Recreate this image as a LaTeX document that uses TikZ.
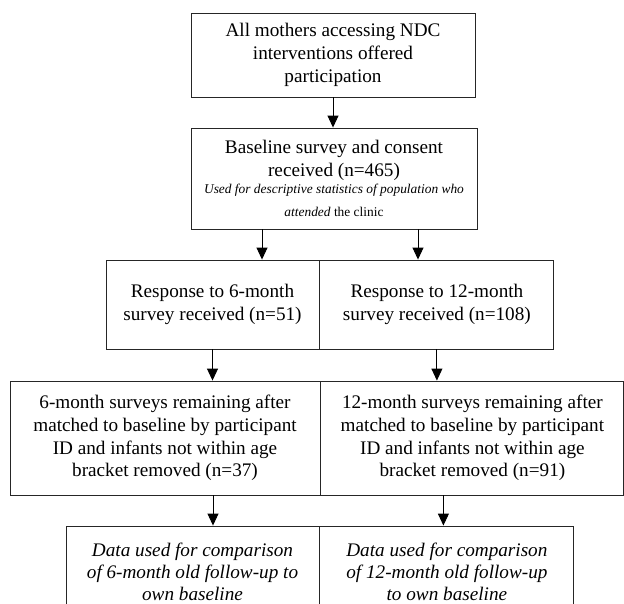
\documentclass[tikz,border=0pt]{standalone}
\usepackage{fontspec}
\setmainfont{Liberation Serif}
\usetikzlibrary{arrows.meta,positioning}
\newcommand\notefont{\fontsize{13.4}{16}\selectfont}
\tikzset{
  stage/.style={draw=black!85, line width=0.9pt, align=center, inner sep=0pt,
    font=\fontsize{19.2}{22.8}\selectfont},
  flow/.style={-{Triangle[length=12pt,width=11pt]}, line width=0.9pt}
}
\begin{document}
\begin{tikzpicture}[x=1pt,y=-1pt]
  \useasboundingbox (0,0) rectangle (624,603);
  \node[name=offer, stage, minimum width=284pt, minimum height=84pt] at (333,55)
    {All mothers accessing NDC\\interventions offered\\participation};
  \node[name=base, stage, minimum width=286pt, minimum height=101pt] at (334,178.5)
    {Baseline survey and consent\\received (n=465)\\[-5pt]
     {\notefont\itshape Used for descriptive statistics of population who}\\
     {\notefont\textit{attended} the clinic}};
  % follow-up responses
  \node[name=resp6, stage, minimum width=213pt, minimum height=89pt] at (212.5,304.5)
    {Response to 6-month\\survey received (n=51)};
  \node[name=resp12, stage, minimum width=234pt, minimum height=89pt, right=0pt of resp6]
    {Response to 12-month\\survey received (n=108)};
  \node[name=remain6, stage, minimum width=310pt, minimum height=114pt] at (165,438)
    {6-month surveys remaining after\\matched to baseline by participant\\ID and infants not within age\\bracket removed (n=37)};
  \node[name=remain12, stage, minimum width=303pt, minimum height=114pt, right=0pt of remain6]
    {12-month surveys remaining after\\matched to baseline by participant\\ID and infants not within age\\bracket removed (n=91)};
  \node[name=data6, stage, minimum width=253pt, minimum height=91pt, font=\fontsize{19.2}{22}\selectfont\itshape] at (192.5,571.5)
    {Data used for comparison\\of 6-month old follow-up to\\own baseline};
  \node[name=data12, stage, minimum width=254pt, minimum height=91pt, font=\fontsize{19.2}{22}\selectfont\itshape, right=0pt of data6]
    {Data used for comparison\\of 12-month old follow-up\\to own baseline};
  % connectors
  \draw[flow] (offer.south) -- (offer.south |- base.north);
  \draw[flow] ([xshift=-72pt]base.south) -- ([xshift=-72pt]base.south |- resp6.north);
  \draw[flow] ([xshift=84pt]base.south) -- ([xshift=84pt]base.south |- resp12.north);
  \draw[flow] (resp6.south) -- (resp6.south |- remain6.north);
  \draw[flow] (resp12.south) -- (resp12.south |- remain12.north);
  \draw[flow] ([xshift=48pt]remain6.south) -- ([xshift=48pt]remain6.south |- data6.north);
  \draw[flow] ([xshift=-29pt]remain12.south) -- ([xshift=-29pt]remain12.south |- data12.north);
\end{tikzpicture}
\end{document}
